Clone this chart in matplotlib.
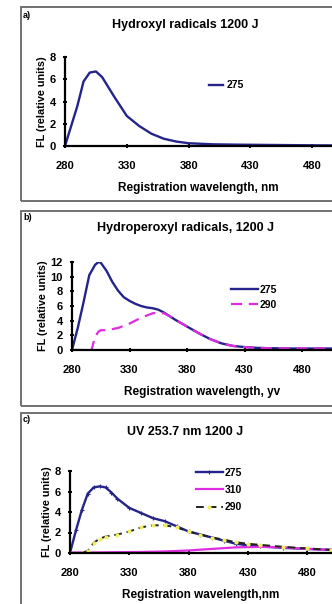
import matplotlib
matplotlib.use("Agg")
import matplotlib.pyplot as plt
from matplotlib.patches import Rectangle

plt.rcParams['font.family'] = ['Liberation Sans', 'DejaVu Sans']
plt.rcParams['font.weight'] = 'bold'

# panel a) hydroxyl radicals
xa = [280, 285, 290, 295, 300, 305, 310, 315, 320, 330, 340, 350, 360, 370, 380, 390, 400, 420, 440, 460, 480, 500]
ya_275 = [0, 1.8, 3.6, 5.8, 6.6, 6.7, 6.2, 5.3, 4.4, 2.7, 1.8, 1.1, 0.65, 0.4, 0.25, 0.2, 0.15, 0.12, 0.1, 0.08, 0.06, 0.05]

# panel b) hydroperoxyl radicals
xb_275 = [280, 285, 290, 295, 300, 303, 305, 310, 315, 320, 325, 330, 335, 340, 345, 350, 355, 360, 365, 370,
          380, 390, 400, 410, 420, 430, 440, 450, 470, 490, 510]
yb_275 = [0, 3, 6.5, 10.2, 11.6, 12, 11.9, 10.8, 9.3, 8.1, 7.2, 6.7, 6.3, 6.0, 5.8, 5.7, 5.5, 5.1, 4.6, 4.1,
          3.2, 2.3, 1.5, 0.9, 0.55, 0.4, 0.3, 0.25, 0.2, 0.2, 0.2]
xb_290 = [280, 290, 297, 300, 303, 305, 310, 320, 330, 340, 350, 355, 360, 365, 370, 380, 390, 400, 410, 420,
          430, 440, 450, 470, 490, 510]
yb_290 = [0, 0, 0, 1.8, 2.5, 2.7, 2.7, 3.0, 3.6, 4.4, 5.0, 5.1, 5.0, 4.6, 4.1, 3.2, 2.3, 1.5, 0.9, 0.55,
          0.4, 0.3, 0.25, 0.2, 0.2, 0.2]

# panel c) UV 253.7 nm
xc_275 = [280, 285, 290, 295, 300, 305, 310, 315, 320, 330, 340, 350, 360, 370, 380, 390, 400, 410, 420, 430,
          440, 460, 480, 500]
yc_275 = [0, 2.2, 4.2, 5.8, 6.4, 6.5, 6.4, 5.9, 5.3, 4.4, 3.9, 3.4, 3.1, 2.6, 2.1, 1.8, 1.5, 1.2, 0.9, 0.75,
          0.65, 0.5, 0.4, 0.3]
xc_310 = [280, 300, 320, 340, 360, 380, 400, 420, 440, 460, 480, 500]
yc_310 = [0.05, 0.05, 0.08, 0.1, 0.15, 0.25, 0.4, 0.55, 0.6, 0.55, 0.4, 0.3]
xc_290 = [280, 290, 295, 300, 305, 310, 320, 330, 340, 350, 360, 370, 380, 390, 400, 410, 420, 430, 440, 460,
          480, 500]
yc_290 = [0, 0, 0.2, 1.0, 1.4, 1.6, 1.8, 2.1, 2.5, 2.7, 2.7, 2.5, 2.1, 1.8, 1.5, 1.3, 1.05, 0.9, 0.8, 0.6,
          0.45, 0.3]

xticks = [280, 330, 380, 430, 480]
navy = '#24248a'
mag = '#e02ce0'

W, H = 332, 604
fig = plt.figure(figsize=(W / 100, H / 100), dpi=100)


def box(top, bottom):
    fig.patches.append(Rectangle((21 / W, 1 - bottom / H), 1, (bottom - top) / H,
                                 transform=fig.transFigure, fill=False,
                                 edgecolor='#666666', linewidth=1.3))


def make_ax(left, top, bottom, xmax, ymax, ystep):
    ax = fig.add_axes([left / W, 1 - bottom / H, 1 - left / W, (bottom - top) / H])
    ax.set_xlim(280, xmax)
    ax.set_ylim(0, ymax)
    ax.set_xticks(xticks)
    ax.set_yticks(range(0, ymax + 1, ystep))
    for s in ['top', 'right']:
        ax.spines[s].set_visible(False)
    for s in ['left', 'bottom']:
        ax.spines[s].set_linewidth(1.6)
    ax.tick_params(axis='both', labelsize=8, width=1.4, length=3, direction='inout')
    ax.tick_params(axis='x', pad=9)
    ax.tick_params(axis='y', pad=5)
    for t in ax.get_xticklabels() + ax.get_yticklabels():
        t.set_fontweight('bold')
    ax.set_ylabel('FL (relative units)', fontsize=7.8, fontweight='bold', labelpad=2)
    ax.patch.set_alpha(0)
    return ax


# a)
box(7, 201)
ax = make_ax(65, 57, 146, 496, 8, 2)
ax.plot(xa, ya_275, color=navy, lw=1.7, label='275')
ax.set_xlabel('Registration wavelength, nm', fontsize=8.5, fontweight='bold', labelpad=8)
ax.legend(loc='center left', bbox_to_anchor=(0.52, 0.68), frameon=False, fontsize=7.5,
          handlelength=1.3, handletextpad=0.4, borderpad=0)
fig.text(185 / W, 1 - 25 / H, 'Hydroxyl radicals 1200 J', ha='center', va='center', fontsize=9, fontweight='bold')
fig.text(23 / W, 1 - 15 / H, 'a)', ha='left', va='center', fontsize=6.5, fontweight='bold')

# b)
box(211, 406)
ax = make_ax(72, 262, 350, 506, 12, 2)
ax.plot(xb_275, yb_275, color=navy, lw=1.7, label='275')
ax.plot(xb_290, yb_290, color=mag, lw=1.6, ls=(0, (5, 3)), label='290')
ax.set_xlabel('Registration wavelength, yv', fontsize=8.5, fontweight='bold', labelpad=8)
ax.legend(loc='center left', bbox_to_anchor=(0.59, 0.6), frameon=False, fontsize=7.5,
          handlelength=2.6, handletextpad=0.2, labelspacing=0.5, borderpad=0)
fig.text(185 / W, 1 - 228 / H, 'Hydroperoxyl radicals, 1200 J', ha='center', va='center', fontsize=9,
         fontweight='bold')
fig.text(23 / W, 1 - 218 / H, 'b)', ha='left', va='center', fontsize=6.5, fontweight='bold')

# c)
box(413, 640)
ax = make_ax(70, 471, 553, 501, 8, 2)
ax.plot(xc_275, yc_275, color=navy, lw=1.7, marker='+', ms=3, mew=0.8, label='275')
ax.plot(xc_310, yc_310, color=mag, lw=1.6, label='310')
ax.plot(xc_290, yc_290, color='#222222', lw=1.4, ls=(0, (4, 2.5)), marker='o', ms=2,
        mfc='#f2f060', mec='#f2f060', label='290')
ax.set_xlabel('Registration wavelength,nm', fontsize=8.5, fontweight='bold', labelpad=8)
ax.legend(loc='center left', bbox_to_anchor=(0.46, 0.77), frameon=False, fontsize=7.5,
          handlelength=2.6, handletextpad=0.2, labelspacing=0.7, borderpad=0)
fig.text(185 / W, 1 - 432 / H, 'UV 253.7 nm 1200 J', ha='center', va='center', fontsize=9, fontweight='bold')
fig.text(23 / W, 1 - 420 / H, 'c)', ha='left', va='center', fontsize=6.5, fontweight='bold')

fig.savefig('out.png', dpi=100)
